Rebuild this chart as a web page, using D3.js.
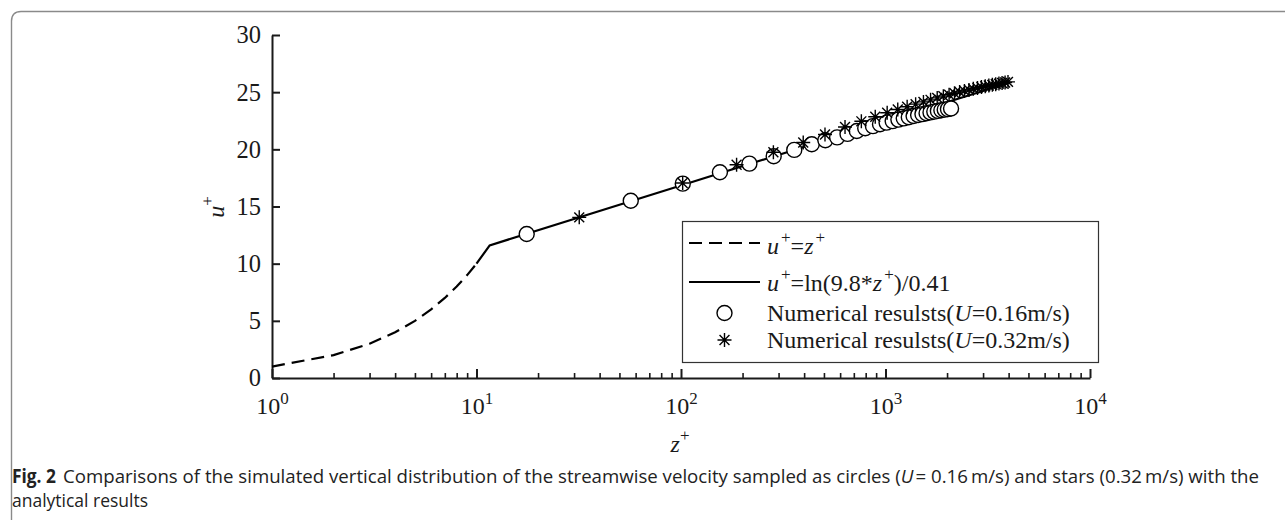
<!DOCTYPE html>
<html><head><meta charset="utf-8">
<script src="https://cdn.jsdelivr.net/npm/d3@7"></script>
<style>
html,body{margin:0;padding:0;background:#fff;}
svg{display:block;}
</style></head>
<body>
<svg id="c" width="1285" height="520"></svg>
<script>
// ---- data ----
const xTicks = [1, 10, 100, 1000, 10000];
const xTickExp = ["0", "1", "2", "3", "4"];
const yTicks = [0, 5, 10, 15, 20, 25, 30];

const dashZ = [1, 2, 3, 4, 5, 6, 7, 8, 9, 10];
const dashU = [1, 2, 3, 4, 5, 6, 7, 8, 9, 10];

const logZ = [10, 11.6, 100, 1000, 3972];
const logU = [10, 11.6, 16.84, 22.45, 25.78];

const circleZ = [17.6, 56.8, 102, 155, 216, 284, 358, 436, 508, 580, 652, 724, 796, 868, 940, 1012,
  1084, 1156, 1228, 1300, 1372, 1444, 1516, 1588, 1660, 1732, 1804, 1876, 1948, 2020, 2092];
const circleU = [12.6, 15.5, 17.0, 18.0, 18.75, 19.4, 19.95, 20.45, 20.8, 21.05, 21.35, 21.6, 21.84, 22.03, 22.19, 22.34,
  22.47, 22.6, 22.71, 22.81, 22.91, 23.0, 23.08, 23.16, 23.23, 23.3, 23.36, 23.42, 23.47, 23.52, 23.57];

const starZ = [31.8, 101.9, 187, 283, 396, 506, 634, 762, 891, 1019, 1148, 1276, 1404, 1533, 1661, 1790,
  1918, 2046, 2175, 2303, 2432, 2560, 2688, 2817, 2945, 3074, 3202, 3330, 3459, 3587, 3716, 3844, 3972];
const starU = [14.05, 17.05, 18.65, 19.75, 20.6, 21.3, 21.95, 22.45, 22.85, 23.2, 23.48, 23.73, 23.95, 24.15, 24.33, 24.5,
  24.65, 24.78, 24.9, 25.01, 25.11, 25.2, 25.29, 25.37, 25.45, 25.52, 25.58, 25.64, 25.7, 25.75, 25.8, 25.85, 25.9];

// ---- layout ----
const svg = d3.select("#c");
const serif = "'Liberation Serif','Times New Roman',serif";
const ink = "#1a1a1a";

const x = d3.scaleLog().domain([1, 10000]).range([272, 1090]);
const y = d3.scaleLinear().domain([0, 30]).range([378, 35]);

// frame (top + left, rounded corner)
svg.append("path")
  .attr("d", "M11.5,520 V21 Q11.5,11.5 21,11.5 H1285")
  .attr("fill", "none").attr("stroke", "#8a8a8a").attr("stroke-width", 1.4);

// Y axis
const yAxis = svg.append("g").attr("transform", "translate(272,0)")
  .call(d3.axisLeft(y).tickValues(yTicks).tickSizeInner(-8).tickSizeOuter(0).tickPadding(11));
yAxis.select(".domain").attr("stroke", ink).attr("stroke-width", 2);
yAxis.selectAll(".tick line").attr("stroke", ink).attr("stroke-width", 2);
yAxis.selectAll(".tick text").attr("font-family", serif).attr("font-size", 24.5).attr("fill", ink);

// X axis minor ticks
const minor = [];
for (let d = 1; d < 10000; d *= 10) for (let k = 2; k <= 9; k++) minor.push(d * k);
const xMinor = svg.append("g").attr("transform", "translate(0,378)")
  .call(d3.axisBottom(x).tickValues(minor).tickSizeInner(-5).tickSizeOuter(0).tickFormat(""));
xMinor.select(".domain").remove();
xMinor.selectAll(".tick line").attr("stroke", ink).attr("stroke-width", 1.6);

// X axis major
const xAxis = svg.append("g").attr("transform", "translate(0,378)")
  .call(d3.axisBottom(x).tickValues(xTicks).tickSizeInner(-9).tickSizeOuter(0).tickFormat(""));
xAxis.select(".domain").attr("stroke", ink).attr("stroke-width", 2.2);
xAxis.selectAll(".tick line").attr("stroke", ink).attr("stroke-width", 2);
xAxis.selectAll(".tick").append("text")
  .attr("y", 36).attr("font-family", serif).attr("font-size", 24).attr("fill", ink)
  .attr("text-anchor", "middle")
  .each(function (d, i) {
    const t = d3.select(this);
    t.append("tspan").text("10");
    t.append("tspan").attr("dy", -10).attr("font-size", 17).text(xTickExp[i]);
  });

// axis titles
const zl = svg.append("text").attr("x", 680).attr("y", 452).attr("font-family", serif)
  .attr("font-size", 24).attr("fill", ink).attr("text-anchor", "middle");
zl.append("tspan").attr("font-style", "italic").text("z");
zl.append("tspan").attr("dy", -11).attr("font-size", 17).text("+");

const ul = svg.append("text").attr("transform", "translate(224,207) rotate(-90)").attr("font-family", serif)
  .attr("font-size", 24).attr("fill", ink).attr("text-anchor", "middle");
ul.append("tspan").attr("font-style", "italic").text("u");
ul.append("tspan").attr("dy", -11).attr("font-size", 17).text("+");

// lines
const line = d3.line().x(d => x(d[0])).y(d => y(d[1]));
svg.append("path").datum(dashZ.map((z, i) => [z, dashU[i]]))
  .attr("d", line).attr("fill", "none").attr("stroke", "#000").attr("stroke-width", 2.2)
  .attr("stroke-dasharray", "13,7");
svg.append("path").datum(logZ.map((z, i) => [z, logU[i]]))
  .attr("d", line).attr("fill", "none").attr("stroke", "#000").attr("stroke-width", 2.2);

// markers
function starPath(s) {
  const a = s * 0.7071;
  return `M0,${-s}V${s}M${-s},0H${s}M${-a},${-a}L${a},${a}M${-a},${a}L${a},${-a}`;
}
svg.append("g").selectAll("circle").data(circleZ.map((z, i) => [z, circleU[i]])).join("circle")
  .attr("cx", d => x(d[0])).attr("cy", d => y(d[1])).attr("r", 7.5)
  .attr("fill", "#fff").attr("stroke", "#000").attr("stroke-width", 1.4);
svg.append("g").selectAll("path").data(starZ.map((z, i) => [z, starU[i]])).join("path")
  .attr("transform", d => `translate(${x(d[0])},${y(d[1])})`)
  .attr("d", starPath(7)).attr("fill", "none").attr("stroke", "#000").attr("stroke-width", 1.4);

// legend
const lg = svg.append("g");
lg.append("rect").attr("x", 682.5).attr("y", 221.5).attr("width", 416).attr("height", 141)
  .attr("fill", "#fff").attr("stroke", "#333").attr("stroke-width", 1.2);
const lx0 = 689, lx1 = 760, tx = 767;
const rows = [243, 282, 313, 340];
lg.append("line").attr("x1", lx0).attr("x2", lx1).attr("y1", rows[0]).attr("y2", rows[0])
  .attr("stroke", "#000").attr("stroke-width", 2.2).attr("stroke-dasharray", "13,7");
lg.append("line").attr("x1", lx0).attr("x2", lx1).attr("y1", rows[1]).attr("y2", rows[1])
  .attr("stroke", "#000").attr("stroke-width", 2.2);
lg.append("circle").attr("cx", (lx0 + lx1) / 2).attr("cy", rows[2]).attr("r", 7.5)
  .attr("fill", "#fff").attr("stroke", "#000").attr("stroke-width", 1.4);
lg.append("path").attr("transform", `translate(${(lx0 + lx1) / 2},${rows[3]})`)
  .attr("d", starPath(7)).attr("fill", "none").attr("stroke", "#000").attr("stroke-width", 1.4);

function ltext(yy) {
  return lg.append("text").attr("x", tx).attr("y", yy).attr("font-family", serif)
    .attr("font-size", 24).attr("fill", ink);
}
const t1 = ltext(rows[0] + 11);
t1.append("tspan").attr("font-style", "italic").text("u");
t1.append("tspan").attr("dy", -11).attr("dx", 2).attr("font-size", 17).text("+");
t1.append("tspan").attr("dy", 11).text("=");
t1.append("tspan").attr("font-style", "italic").text("z");
t1.append("tspan").attr("dy", -11).attr("dx", 2).attr("font-size", 17).text("+");

const t2 = ltext(rows[1] + 9);
t2.append("tspan").attr("font-style", "italic").text("u");
t2.append("tspan").attr("dy", -11).attr("dx", 2).attr("font-size", 17).text("+");
t2.append("tspan").attr("dy", 11).text("=ln(9.8*");
t2.append("tspan").attr("font-style", "italic").text("z");
t2.append("tspan").attr("dy", -11).attr("dx", 2).attr("font-size", 17).text("+");
t2.append("tspan").attr("dy", 11).text(")/0.41");

const t3 = ltext(rows[2] + 8);
t3.append("tspan").text("Numerical resulsts(");
t3.append("tspan").attr("font-style", "italic").text("U");
t3.append("tspan").text("=0.16m/s)");

const t4 = ltext(rows[3] + 8);
t4.append("tspan").text("Numerical resulsts(");
t4.append("tspan").attr("font-style", "italic").text("U");
t4.append("tspan").text("=0.32m/s)");

// caption
const cf = "'Liberation Sans Narrow','Open Sans','Noto Sans',sans-serif";
svg.append("text").attr("x", 12).attr("y", 483).attr("font-family", cf).attr("font-weight", "bold")
  .attr("font-size", 19).attr("fill", "#222").text("Fig. 2")
  .attr("textLength", 44).attr("lengthAdjust", "spacingAndGlyphs");
const cap = svg.append("text").attr("x", 63).attr("y", 483).attr("font-family", cf)
  .attr("font-size", 18.5).attr("fill", "#222")
  .attr("textLength", 1196).attr("lengthAdjust", "spacingAndGlyphs");
cap.append("tspan").text("Comparisons of the simulated vertical distribution of the streamwise velocity sampled as circles (");
cap.append("tspan").attr("font-style", "italic").text("U");
cap.append("tspan").attr("dx", 2).text("= 0.16\u2009m/s) and stars (0.32\u2009m/s) with the");
svg.append("text").attr("x", 12).attr("y", 507).attr("font-family", cf)
  .attr("font-size", 18.5).attr("fill", "#222").text("analytical results")
  .attr("textLength", 136).attr("lengthAdjust", "spacingAndGlyphs");
</script>
</body></html>
